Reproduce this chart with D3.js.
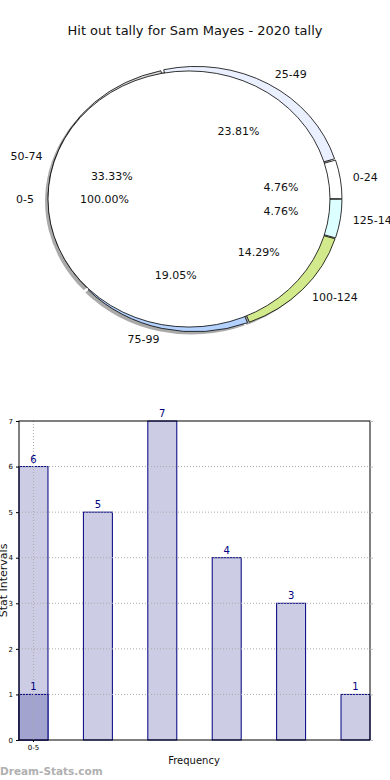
<!DOCTYPE html>
<html>
<head>
<meta charset="utf-8">
<script src="https://cdn.jsdelivr.net/npm/d3@7"></script>
<style>
  body { margin: 0; background: #fff; }
  svg { display: block; font-family: "DejaVu Sans", sans-serif; }
</style>
</head>
<body>
<svg id="chart"></svg>
<script>
// данные
const title = "Hit out tally for Sam Mayes - 2020 tally";
const ringLabels = ["0-24", "25-49", "50-74", "75-99", "100-124", "125-149"];
const ringCounts = [1, 5, 7, 4, 3, 1];
const innerLabels = ["0-5"];
const innerCounts = [1];

const barCategories = ["0-5", "", "", "", "", ""];
const barValues = [6, 5, 7, 4, 3, 1];
const overlayValues = [1];
const yTicks = [0, 1, 2, 3, 4, 5, 6, 7];

// стили
const ringColors = ["#ffffff", "#eaf0ff", "#d8d8d8", "#b4d2ff", "#d2ea8c", "#dcffff"];

const width = 390, height = 780;
const svg = d3.select("#chart").attr("width", width).attr("height", height);

svg.append("text")
  .attr("x", 195).attr("y", 35)
  .attr("text-anchor", "middle")
  .style("font-size", "13px")
  .attr("fill", "#111")
  .text(title);

// ---- pie ----
const outer = {cx: 195, cy: 199, rx: 145, ry: 131};
const inner = {cx: 189, cy: 199, rx: 141, ry: 128};
const explode = 2;

// как в matplotlib: от 3 часов против часовой
const pie = d3.pie().sort(null).startAngle(Math.PI / 2).endAngle(Math.PI / 2 - 2 * Math.PI);

function toXY(c, ang, k) {
  return [c.cx + k * c.rx * Math.sin(ang), c.cy - k * c.ry * Math.cos(ang)];
}

const ringArcs = pie(ringCounts);
const arcOuter = d3.arc().innerRadius(0).outerRadius(outer.rx);

const gOuter = svg.append("g")
  .attr("transform", `translate(${outer.cx},${outer.cy}) scale(1,${outer.ry / outer.rx})`);

// тени
gOuter.selectAll(".shadow")
  .data(ringArcs)
  .enter().append("path")
  .attr("class", "shadow")
  .attr("transform", d => {
    const m = (d.startAngle + d.endAngle) / 2;
    return `translate(${explode * Math.sin(m) - 3},${-explode * Math.cos(m) + 3})`;
  })
  .attr("d", arcOuter)
  .attr("fill", "#555")
  .attr("fill-opacity", 0.5);

gOuter.selectAll(".wedge")
  .data(ringArcs)
  .enter().append("path")
  .attr("class", "wedge")
  .attr("transform", d => {
    const m = (d.startAngle + d.endAngle) / 2;
    return `translate(${explode * Math.sin(m)},${-explode * Math.cos(m)})`;
  })
  .attr("d", arcOuter)
  .attr("fill", (d, i) => ringColors[i])
  .attr("stroke", "#000")
  .attr("stroke-width", 0.8)
  .attr("vector-effect", "non-scaling-stroke");

const innerArcs = pie(innerCounts);
const gInner = svg.append("g")
  .attr("transform", `translate(${inner.cx},${inner.cy}) scale(1,${inner.ry / inner.rx})`);
gInner.selectAll("path")
  .data(innerArcs)
  .enter().append("path")
  .attr("d", d3.arc().innerRadius(0).outerRadius(inner.rx))
  .attr("fill", "#fff")
  .attr("stroke", "#000")
  .attr("stroke-width", 0.8)
  .attr("vector-effect", "non-scaling-stroke");

const ringTotal = d3.sum(ringCounts);
const innerTotal = d3.sum(innerCounts);

function addLabels(arcs, c, labels, total) {
  arcs.forEach((d, i) => {
    const m = (d.startAngle + d.endAngle) / 2;
    const [lx, ly] = toXY(c, m, 1.1);
    svg.append("text")
      .attr("x", lx).attr("y", ly)
      .attr("dy", "0.35em")
      .attr("text-anchor", Math.sin(m) >= 0 ? "start" : "end")
      .style("font-size", "11px")
      .attr("fill", "#111")
      .text(labels[i]);
    const [px, py] = toXY(c, m, 0.6);
    svg.append("text")
      .attr("x", px).attr("y", py)
      .attr("dy", "0.35em")
      .attr("text-anchor", "middle")
      .style("font-size", "11px")
      .attr("fill", "#111")
      .text((d.data / total * 100).toFixed(2) + "%");
  });
}
addLabels(ringArcs, outer, ringLabels, ringTotal);
addLabels(innerArcs, inner, innerLabels, innerTotal);

// ---- bars ----
const bLeft = 19, bRight = 370, bTop = 421, bBottom = 740;

const x = d3.scaleBand()
  .domain(d3.range(barValues.length))
  .range([bLeft, bRight])
  .paddingInner(0.55)
  .paddingOuter(0);
const y = d3.scaleLinear([0, 7], [bBottom, bTop]);

const gb = svg.append("g");

gb.selectAll(".bar")
  .data(barValues)
  .enter().append("rect")
  .attr("x", (d, i) => x(i))
  .attr("y", d => y(d))
  .attr("width", x.bandwidth())
  .attr("height", d => y(0) - y(d))
  .attr("fill", "#ccccE4")
  .attr("stroke", "#000080")
  .attr("stroke-width", 1);

gb.selectAll(".over")
  .data(overlayValues)
  .enter().append("rect")
  .attr("x", (d, i) => x(i))
  .attr("y", d => y(d))
  .attr("width", x.bandwidth())
  .attr("height", d => y(0) - y(d))
  .attr("fill", "#a3a3d0")
  .attr("stroke", "#000080")
  .attr("stroke-width", 1);

// сетка
gb.selectAll(".hgrid")
  .data(yTicks.slice(1, -1))
  .enter().append("line")
  .attr("x1", bLeft).attr("x2", bRight)
  .attr("y1", d => y(d)).attr("y2", d => y(d))
  .attr("stroke", "#aaa")
  .attr("stroke-dasharray", "1,2");

gb.selectAll(".vgrid")
  .data(barCategories.filter(c => c !== ""))
  .enter().append("line")
  .attr("x1", (d, i) => x(i) + x.bandwidth() / 2)
  .attr("x2", (d, i) => x(i) + x.bandwidth() / 2)
  .attr("y1", bTop).attr("y2", bBottom)
  .attr("stroke", "#aaa")
  .attr("stroke-dasharray", "1,2");

// подписи значений
gb.selectAll(".val")
  .data(barValues)
  .enter().append("text")
  .attr("x", (d, i) => x(i) + x.bandwidth() / 2)
  .attr("y", d => y(d) - 4)
  .attr("text-anchor", "middle")
  .style("font-size", "10px")
  .attr("fill", "#000080")
  .text(d => d);

gb.selectAll(".oval")
  .data(overlayValues)
  .enter().append("text")
  .attr("x", (d, i) => x(i) + x.bandwidth() / 2)
  .attr("y", d => y(d) - 4)
  .attr("text-anchor", "middle")
  .style("font-size", "10px")
  .attr("fill", "#000080")
  .text(d => d);

// рамка
gb.append("rect")
  .attr("x", bLeft).attr("y", bTop)
  .attr("width", bRight - bLeft).attr("height", bBottom - bTop)
  .attr("fill", "none")
  .attr("stroke", "#000")
  .attr("stroke-width", 1);

// ось Y
gb.append("g")
  .attr("transform", `translate(${bLeft},0)`)
  .call(d3.axisLeft(y).tickValues(yTicks).tickSize(3).tickFormat(d3.format("d")))
  .call(g => g.select(".domain").remove())
  .selectAll("text")
    .style("font-size", "7px")
    .attr("font-family", "DejaVu Sans");

gb.append("g")
  .attr("transform", `translate(${bRight},0)`)
  .call(d3.axisRight(y).tickValues(yTicks).tickSize(3).tickFormat(""))
  .call(g => g.select(".domain").remove())
  .selectAll("line").attr("stroke", "#bbb");

// ось X
gb.append("g")
  .attr("transform", `translate(0,${bBottom})`)
  .call(d3.axisBottom(x).tickSize(2).tickFormat(i => barCategories[i]))
  .call(g => g.select(".domain").remove())
  .call(g => g.selectAll(".tick").filter(i => barCategories[i] === "").remove())
  .selectAll("text")
    .style("font-size", "7px")
    .attr("font-family", "DejaVu Sans");

svg.append("text")
  .attr("transform", `translate(7,${(bTop + bBottom) / 2}) rotate(-90)`)
  .attr("text-anchor", "middle")
  .style("font-size", "11px")
  .attr("fill", "#111")
  .text("Stat Intervals");

svg.append("text")
  .attr("x", 194).attr("y", 764)
  .attr("text-anchor", "middle")
  .style("font-size", "10px")
  .attr("fill", "#111")
  .text("Frequency");

svg.append("text")
  .attr("x", 0).attr("y", 775)
  .style("font-size", "10.5px")
  .style("font-weight", "bold")
  .attr("fill", "#b0b0b0")
  .text("Dream-Stats.com");
</script>
</body>
</html>
